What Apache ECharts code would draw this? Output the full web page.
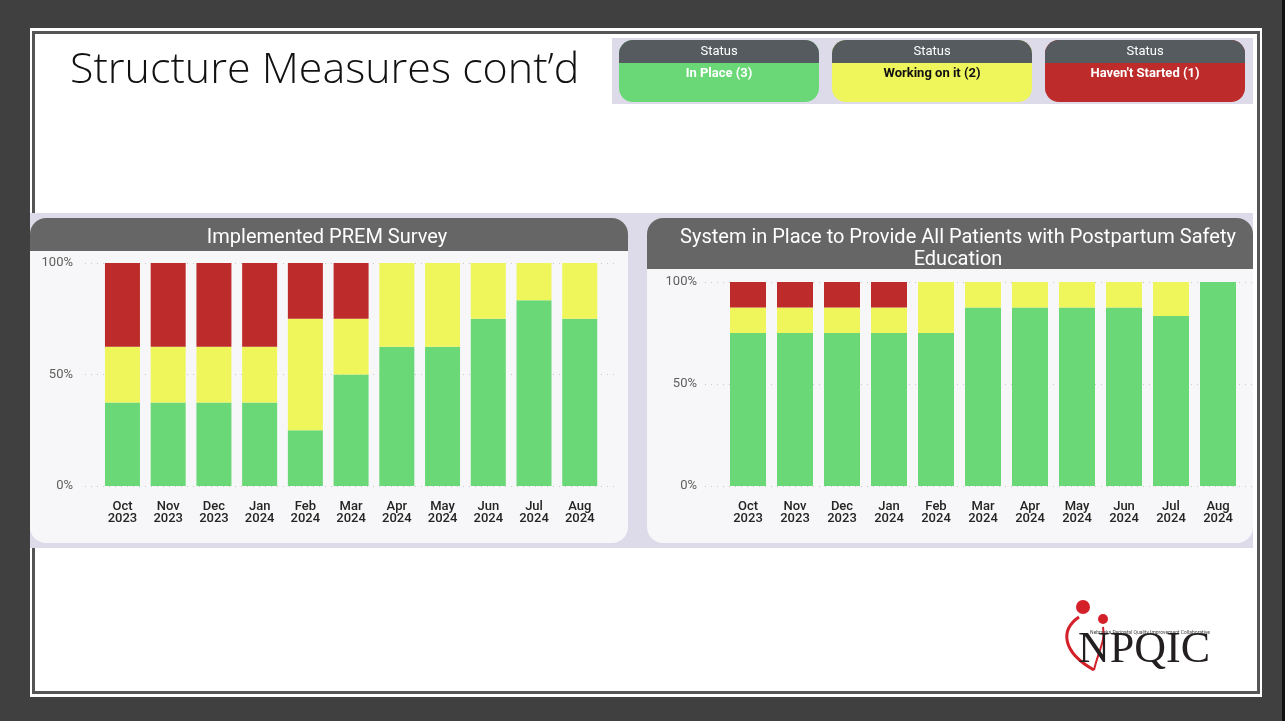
<!DOCTYPE html>
<html lang="en">
<head>
  <meta charset="UTF-8">
  <title>Structure Measures cont'd</title>
  <style>
    html, body { margin: 0; padding: 0; background: #404040; }
    #main { width: 1285px; height: 721px; }
  </style>
</head>
<body>
  <div id="main"></div>
  <script src="https://cdn.jsdelivr.net/npm/echarts@6/dist/echarts.min.js"></script>
  <script>
    // months shown on both charts
    var months = ['Oct\n2023', 'Nov\n2023', 'Dec\n2023', 'Jan\n2024', 'Feb\n2024', 'Mar\n2024',
      'Apr\n2024', 'May\n2024', 'Jun\n2024', 'Jul\n2024', 'Aug\n2024'];

    // Implemented PREM Survey (% of hospitals)
    var premInPlace = [37.5, 37.5, 37.5, 37.5, 25, 50, 62.5, 62.5, 75, 83.3, 75];
    var premWorking = [25, 25, 25, 25, 50, 25, 37.5, 37.5, 25, 16.7, 25];
    var premNotStarted = [37.5, 37.5, 37.5, 37.5, 25, 25, 0, 0, 0, 0, 0];

    // System in Place to Provide All Patients with Postpartum Safety Education
    var eduInPlace = [75, 75, 75, 75, 75, 87.5, 87.5, 87.5, 87.5, 83.3, 100];
    var eduWorking = [12.5, 12.5, 12.5, 12.5, 25, 12.5, 12.5, 12.5, 12.5, 16.7, 0];
    var eduNotStarted = [12.5, 12.5, 12.5, 12.5, 0, 0, 0, 0, 0, 0, 0];

    var statusNames = ['In Place (3)', 'Working on it (2)', "Haven't Started (1)"];

    var GREEN = '#6ad877';
    var YELLOW = '#eff65c';
    var RED = '#bd2c2b';
    var FONT = 'Roboto, "DejaVu Sans", sans-serif';

    var myChart = echarts.init(document.getElementById('main'));

    function txt(text, x, y, size, color, align, weight, family) {
      return {
        type: 'text',
        z: 5,
        style: {
          text: text, x: x, y: y,
          font: (weight || 'normal') + ' ' + size + 'px ' + (family || FONT),
          fill: color,
          align: align || 'center', textAlign: align || 'center',
          verticalAlign: 'middle', textVerticalAlign: 'middle'
        }
      };
    }

    function rect(x, y, w, h, fill, r, z) {
      return { type: 'rect', z: z || 0, shape: { x: x, y: y, width: w, height: h, r: r || 0 }, style: { fill: fill } };
    }

    // status legend boxes
    var statusFill = [GREEN, YELLOW, RED];
    var statusText = ['#ffffff', '#111111', '#ffffff'];
    var statusX = [619, 832, 1045];
    var graphics = [
      // slide frame
      rect(30, 28, 1232, 669, '#ffffff', 0, -10),
      { type: 'rect', z: -9, shape: { x: 33.5, y: 32.5, width: 1225, height: 660 }, style: { fill: null, stroke: '#555555', lineWidth: 3 } },
      rect(1282, 0, 3, 721, '#111111', 0, -10),
      txt('Structure Measures cont\u2019d', 70, 71, 43, '#111111', 'left', '300', '"Open Sans", Lato, sans-serif'),
      rect(612, 38, 641, 66, '#dddbe9', 0, -5),
      // panels
      rect(30, 213, 1223, 335, '#dddbe9', 0, -5),
      rect(30, 218, 598, 325, '#f7f7f9', 16, -4),
      rect(30, 218, 598, 33, '#666666', [16, 16, 0, 0], -3),
      rect(647, 218, 606, 325, '#f7f7f9', 16, -4),
      rect(647, 218, 606, 51, '#666666', [16, 16, 0, 0], -3),
      txt('Implemented PREM Survey', 327, 238, 20, '#ffffff'),
      txt('System in Place to Provide All Patients with Postpartum Safety', 958, 238, 20, '#ffffff'),
      txt('Education', 958, 260, 20, '#ffffff')
    ];
    for (var i = 0; i < 3; i++) {
      graphics.push(rect(statusX[i], 40, 200, 62, statusFill[i], 14, -2));
      graphics.push(rect(statusX[i], 40, 200, 23, '#555b5e', [14, 14, 0, 0], -1));
      graphics.push(txt('Status', statusX[i] + 100, 52, 13, '#ffffff'));
      graphics.push(txt(statusNames[i], statusX[i] + 100, 74, 13, statusText[i], 'center', 'bold'));
    }

    // NPQIC logo
    graphics.push({ type: 'circle', z: 5, shape: { cx: 1083, cy: 607, r: 7 }, style: { fill: '#d42029' } });
    graphics.push({ type: 'circle', z: 5, shape: { cx: 1103, cy: 619, r: 5 }, style: { fill: '#d42029' } });
    graphics.push({ type: 'bezierCurve', z: 5,
      shape: { x1: 1079, y1: 617, cpx1: 1060, cpy1: 630, cpx2: 1062, cpy2: 652, x2: 1094, y2: 670 },
      style: { fill: null, stroke: '#d42029', lineWidth: 3 } });
    graphics.push({ type: 'bezierCurve', z: 5,
      shape: { x1: 1094, y1: 670, cpx1: 1098, cpy1: 652, cpx2: 1106, cpy2: 640, x2: 1103, y2: 627 },
      style: { fill: null, stroke: '#d42029', lineWidth: 2 } });
    graphics.push(txt('Nebraska Perinatal Quality Improvement Collaborative', 1150, 633, 5, '#444444'));
    graphics.push(txt('NPQIC', 1144, 650, 44, '#231f20', 'center', 'normal', '"Liberation Serif", "DejaVu Serif", serif'));

    var yLabel = { color: '#605e5c', fontSize: 13, fontFamily: FONT, formatter: function (v) { return v + '%'; } };
    var xLabel = { color: '#252423', fontSize: 13, fontWeight: 500, fontFamily: FONT, lineHeight: 12, margin: 15, interval: 0 };
    var dotted = { show: true, lineStyle: { color: '#c8c8c8', type: [1, 5], width: 1 } };

    function bar(name, data, color, xi, w) {
      return {
        name: name, type: 'bar', stack: 's' + xi, xAxisIndex: xi, yAxisIndex: xi,
        barWidth: w, data: data, itemStyle: { color: color }
      };
    }

    var option = {
      animation: false,
      graphic: graphics,
      grid: [
        { left: 85, width: 530, top: 263, height: 223 },
        { left: 99.6, width: 503, top: 263, height: 223 },
        { left: 705, width: 548, top: 282, height: 204 },
        { left: 724.5, width: 517, top: 282, height: 204 }
      ],
      xAxis: [
        { gridIndex: 0, type: 'category', data: months, show: false },
        { gridIndex: 1, type: 'category', data: months, axisLine: { show: false }, axisTick: { show: false }, axisLabel: xLabel },
        { gridIndex: 2, type: 'category', data: months, show: false },
        { gridIndex: 3, type: 'category', data: months, axisLine: { show: false }, axisTick: { show: false }, axisLabel: xLabel }
      ],
      yAxis: [
        { gridIndex: 0, type: 'value', min: 0, max: 100, interval: 50, axisLabel: Object.assign({ margin: 12 }, yLabel), splitLine: dotted },
        { gridIndex: 1, type: 'value', min: 0, max: 100, interval: 50, show: false, splitLine: { show: false } },
        { gridIndex: 2, type: 'value', min: 0, max: 100, interval: 50, axisLabel: Object.assign({ margin: 8 }, yLabel), splitLine: dotted },
        { gridIndex: 3, type: 'value', min: 0, max: 100, interval: 50, show: false, splitLine: { show: false } }
      ],
      series: [
        bar('In Place', premInPlace, GREEN, 1, 35),
        bar('Working on it', premWorking, YELLOW, 1, 35),
        bar("Haven't Started", premNotStarted, RED, 1, 35),
        bar('In Place', eduInPlace, GREEN, 3, 36),
        bar('Working on it', eduWorking, YELLOW, 3, 36),
        bar("Haven't Started", eduNotStarted, RED, 3, 36)
      ]
    };
    myChart.setOption(option);
  </script>
</body>
</html>
